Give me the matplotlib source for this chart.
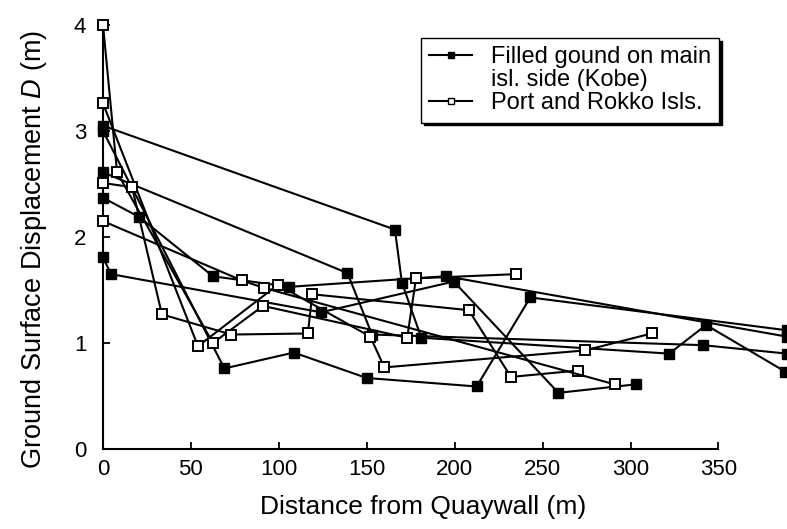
import matplotlib.pyplot as plt
from matplotlib.lines import Line2D

plt.rcParams['font.family'] = ['Liberation Sans', 'DejaVu Sans']
plt.rcParams['mathtext.fontset'] = 'custom'
plt.rcParams['mathtext.it'] = 'Liberation Sans:italic'
plt.rcParams['mathtext.rm'] = 'Liberation Sans'

# filled ground, main island side (Kobe)
kobe1_x = [0, 166, 170, 181, 322, 343, 388]
kobe1_y = [3.05, 2.07, 1.57, 1.05, 0.90, 1.17, 0.73]
kobe2_x = [0, 69, 108.5, 150, 212.5, 243, 389]
kobe2_y = [3.0, 0.76, 0.91, 0.67, 0.59, 1.43, 1.12]
kobe3_x = [0, 20.5, 62.5, 106, 195, 389]
kobe3_y = [2.37, 2.19, 1.63, 1.53, 1.63, 1.06]
kobe4_x = [0, 139, 153, 341, 389]
kobe4_y = [2.61, 1.66, 1.08, 0.98, 0.90]
kobe5_x = [0, 4.5, 124, 199.5, 259, 303]
kobe5_y = [1.81, 1.65, 1.29, 1.58, 0.53, 0.61]

# Port Island and Rokko Island
port1_x = [0, 8, 62.5, 91, 173, 178, 235]
port1_y = [4.0, 2.61, 1.0, 1.35, 1.05, 1.61, 1.65]
port2_x = [0, 54, 99.5, 152, 160, 274, 312]
port2_y = [3.26, 0.97, 1.55, 1.06, 0.77, 0.93, 1.09]
port3_x = [0, 16.5, 33.5, 73, 116.5, 119, 208, 232, 270]
port3_y = [2.51, 2.47, 1.27, 1.08, 1.09, 1.46, 1.31, 0.68, 0.74]
port4_x = [0, 79, 91.5, 291]
port4_y = [2.15, 1.59, 1.52, 0.61]

kobe = [(kobe1_x, kobe1_y), (kobe2_x, kobe2_y), (kobe3_x, kobe3_y),
        (kobe4_x, kobe4_y), (kobe5_x, kobe5_y)]
port = [(port1_x, port1_y), (port2_x, port2_y), (port3_x, port3_y),
        (port4_x, port4_y)]

fig = plt.figure(figsize=(7.87, 5.29), dpi=100)
ax = fig.add_axes([0.1309, 0.1512, 0.8691, 0.8015])

for x, y in kobe:
    ax.plot(x, y, color='k', lw=1.5, marker='s', ms=7, mfc='k', mec='k',
            clip_on=False, zorder=3)
for x, y in port:
    ax.plot(x, y, color='k', lw=1.5, marker='s', ms=7, mfc='white', mec='k',
            mew=1.4, clip_on=False, zorder=3)

ax.set_xlim(0, 389)
ax.set_ylim(0, 4)
ax.set_xticks(range(0, 351, 50))
ax.set_yticks(range(0, 5))
ax.spines['top'].set_visible(False)
ax.spines['right'].set_visible(False)
ax.spines['bottom'].set_bounds(0, 350)
ax.spines['left'].set_linewidth(1.5)
ax.spines['bottom'].set_linewidth(1.5)
ax.tick_params(direction='in', length=5, width=1.3, labelsize=16)
ax.tick_params(axis='y', pad=12)
ax.tick_params(axis='x', pad=7)

ax.set_xlabel('Distance from Quaywall (m)', fontsize=19, labelpad=11, x=0.468)
ax.set_ylabel('Ground Surface Displacement $D$ (m)', fontsize=19.5,
              labelpad=18, y=0.47)

# legend: the Kobe label takes two lines with its key on the first one
handles = [
    Line2D([], [], color='k', lw=1.5, marker='s', ms=5, mfc='k', mec='k'),
    Line2D([], [], linestyle='none'),
    Line2D([], [], color='k', lw=1.5, marker='s', ms=5, mfc='white', mec='k'),
]
labels = ['Filled gound on main', 'isl. side (Kobe)', 'Port and Rokko Isls.']
leg = ax.legend(handles, labels, loc='upper left', bbox_to_anchor=(0.465, 0.97),
                borderaxespad=0, fontsize=17, frameon=True, fancybox=False,
                edgecolor='k', handlelength=1.8, handletextpad=0.8,
                borderpad=0.35, labelspacing=0.05,
                shadow={'color': 'k', 'alpha': 1})
leg.get_frame().set_linewidth(1.0)

fig.savefig('out.png', dpi=100)
